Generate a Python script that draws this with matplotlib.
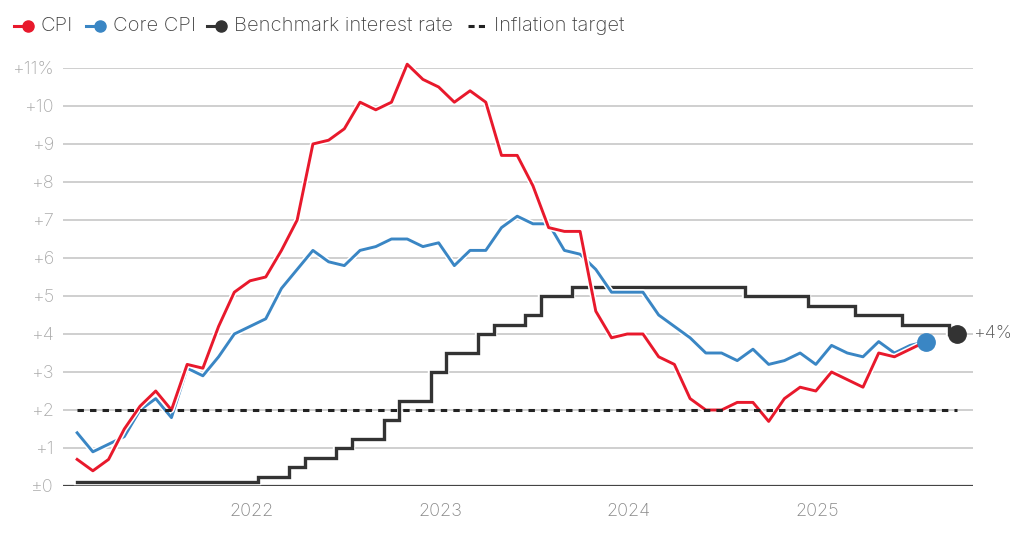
import matplotlib
matplotlib.use("Agg")
import matplotlib.pyplot as plt
import matplotlib.patheffects as pe
from matplotlib.lines import Line2D
import numpy as np

# ---- data (monthly, Jan 2021 onward) ----
cpi = [0.7, 0.4, 0.7, 1.5, 2.1, 2.5, 2.0, 3.2, 3.1, 4.2, 5.1, 5.4,
       5.5, 6.2, 7.0, 9.0, 9.1, 9.4, 10.1, 9.9, 10.1, 11.1, 10.7, 10.5,
       10.1, 10.4, 10.1, 8.7, 8.7, 7.9, 6.8, 6.7, 6.7, 4.6, 3.9, 4.0,
       4.0, 3.4, 3.2, 2.3, 2.0, 2.0, 2.2, 2.2, 1.7, 2.3, 2.6, 2.5,
       3.0, 2.8, 2.6, 3.5, 3.4, 3.6, 3.8]
core_cpi = [1.4, 0.9, 1.1, 1.3, 2.0, 2.3, 1.8, 3.1, 2.9, 3.4, 4.0, 4.2,
            4.4, 5.2, 5.7, 6.2, 5.9, 5.8, 6.2, 6.3, 6.5, 6.5, 6.3, 6.4,
            5.8, 6.2, 6.2, 6.8, 7.1, 6.9, 6.9, 6.2, 6.1, 5.7, 5.1, 5.1,
            5.1, 4.5, 4.2, 3.9, 3.5, 3.5, 3.3, 3.6, 3.2, 3.3, 3.5, 3.2,
            3.7, 3.5, 3.4, 3.8, 3.5, 3.7, 3.8]
bank_rate = [0.1] * 12 + \
    [0.25, 0.25, 0.5, 0.75, 0.75, 1.0, 1.25, 1.25, 1.75, 2.25, 2.25, 3.0,
     3.5, 3.5, 4.0, 4.25, 4.25, 4.5, 5.0, 5.0, 5.25, 5.25, 5.25, 5.25,
     5.25, 5.25, 5.25, 5.25, 5.25, 5.25, 5.25, 5.0, 5.0, 5.0, 5.0, 4.75,
     4.75, 4.75, 4.5, 4.5, 4.5, 4.25, 4.25, 4.25, 4.0]
inflation_target = 2.0
year_labels = ["2022", "2023", "2024", "2025"]
ytick_values = list(range(0, 12))
ytick_labels = ["±0", "+1", "+2", "+3", "+4", "+5", "+6", "+7", "+8", "+9", "+10", "+11%"]
end_label = "+4%"

# ---- style ----
RED = "#e8192c"
BLUE = "#3a86c4"
DARK = "#333333"
FONT = "Inter"
plt.rcParams["font.family"] = [FONT, "DejaVu Sans"]
plt.rcParams["font.weight"] = "light"

W, H = 1021, 533
fig = plt.figure(figsize=(W / 100, H / 100), dpi=100)
fig.patch.set_facecolor("white")
ax = fig.add_axes([63 / W, 47 / H, 910 / W, 418 / H])
ax.set_facecolor("white")

x_cpi = np.arange(len(cpi))
x_core = np.arange(len(core_cpi))
x_rate = np.arange(len(bank_rate))

ax.set_xlim(-0.9, 57.0)
ax.set_ylim(0, 11)

# grid
for v in ytick_values[1:]:
    ax.axhline(v, color="#cccccc", lw=1.3, zorder=1)
ax.axhline(0, color="#444444", lw=1.6, zorder=2)

white = [pe.Stroke(linewidth=4.3, foreground="white"), pe.Normal()]

ax.plot(x_rate, bank_rate, drawstyle="steps-mid", color=DARK, lw=2.4,
        zorder=3, solid_joinstyle="miter",
        path_effects=[pe.Stroke(linewidth=4.6, foreground="white"), pe.Normal()], clip_on=False)
ax.plot(x_core, core_cpi, color=BLUE, lw=2.1, zorder=4, path_effects=white, clip_on=False)
ax.plot(x_cpi, cpi, color=RED, lw=2.1, zorder=5, path_effects=white, clip_on=False)
ax.plot([x_rate[0], x_rate[-1]], [inflation_target] * 2, color="#222222", lw=2.2,
        linestyle=(0, (2.1, 2.0)), dash_capstyle="butt", zorder=6)

# end markers
ax.plot(x_core[-1], core_cpi[-1], "o", color=BLUE, ms=12.5, zorder=7, clip_on=False)
ax.plot(x_rate[-1], bank_rate[-1], "o", color=DARK, ms=12.5, zorder=7, clip_on=False)
ax.annotate(end_label, (x_rate[-1], bank_rate[-1]), xytext=(11, 0), textcoords="offset points",
            ha="left", va="center", fontsize=13, color="#555555")

# ticks
ax.set_yticks(ytick_values)
ax.set_yticklabels(ytick_labels)
ax.set_xticks([12 * (k + 1) - 0.9 for k in range(len(year_labels))])
ax.set_xticklabels(year_labels)
ax.tick_params(axis="y", length=0, pad=6.5, labelsize=13, labelcolor="#aaaaaa")
ax.tick_params(axis="x", length=0, pad=12, labelsize=13, labelcolor="#888888")
for s in ax.spines.values():
    s.set_visible(False)

# legend (manual, figure pixel coords)
def fx(px):
    return px / W

def fy(py):
    return 1 - py / H

ly = 26
items = [("CPI", RED, 14, 41, "dot"), ("Core CPI", BLUE, 86, 113, "dot"),
         ("Benchmark interest rate", DARK, 207, 234, "dot"), ("Inflation target", "#222222", 468, 494, "dash")]
for label, col, x0, xt, kind in items:
    if kind == "dot":
        fig.add_artist(Line2D([fx(x0), fx(x0 + 14)], [fy(ly), fy(ly)], color=col, lw=2.2))
        fig.add_artist(Line2D([fx(x0 + 14)], [fy(ly)], marker="o", ms=8, color=col))
    else:
        fig.add_artist(Line2D([fx(x0), fx(x0 + 18)], [fy(ly), fy(ly)], color=col, lw=2.2,
                              linestyle=(0, (2.0, 1.4)), dash_capstyle="butt"))
    fig.text(fx(xt), fy(ly), label, ha="left", va="center", fontsize=14.5, color="#444444")

fig.savefig("out.png", dpi=100, facecolor="white")
